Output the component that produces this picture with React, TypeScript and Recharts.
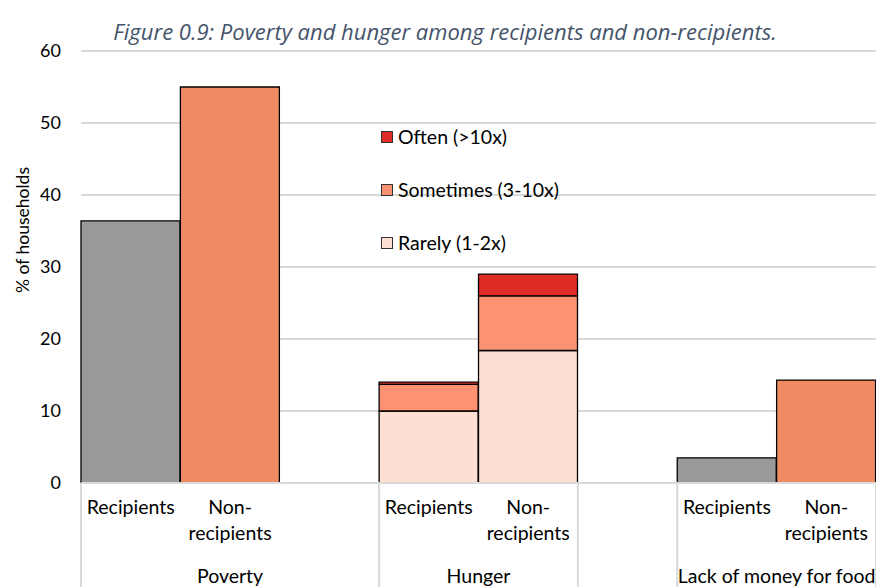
import React from "react";
import {
  BarChart,
  Bar,
  XAxis,
  YAxis,
  CartesianGrid,
  Legend,
} from "recharts";

// categories along the x axis (blank slots are the gaps between groups)
const categoryKeys = ["pov-rec", "pov-non", "gap1", "hun-rec", "hun-non", "gap2", "lack-rec", "lack-non"];
const categoryLabels = ["Recipients", "Non-\nrecipients", "", "Recipients", "Non-\nrecipients", "", "Recipients", "Non-\nrecipients"];

// outer level of the axis: label, first slot, number of slots
const groupLabels = ["Poverty", "Hunger", "", "Lack of money for food"];
const groupStarts = [0, 3, 5, 6];
const groupSpans = [3, 2, 1, 2];

// series values, one per category (null = no bar)
const recipients = [36.4, null, null, null, null, null, 3.5, null];
const nonRecipients = [null, 55, null, null, null, null, null, 14.3];
const rarely = [null, null, null, 10, 18.4, null, null, null];
const sometimes = [null, null, null, 3.7, 7.6, null, null, null];
const often = [null, null, null, 0.3, 3, null, null, null];

const yTicks = [0, 10, 20, 30, 40, 50, 60];

const legendNames = ["Often (>10x)", "Sometimes (3-10x)", "Rarely (1-2x)"];
const legendColors = ["#de2d26", "#fc9272", "#fee0d2"];

const FONT = "Lato, 'Open Sans', sans-serif";
const W = 876;
const H = 587;
const Y_AXIS_W = 81;
const X_AXIS_H = 104;
const BAND = (W - Y_AXIS_W) / categoryKeys.length;

const data = categoryKeys.map((key, i) => ({
  key,
  recipients: recipients[i],
  nonRecipients: nonRecipients[i],
  rarely: rarely[i],
  sometimes: sometimes[i],
  often: often[i],
}));

function CategoryTick(props: any) {
  const { x, y, payload } = props;
  const i = payload.index;
  const lines = categoryLabels[i] ? categoryLabels[i].split("\n") : [];
  const g = groupStarts.indexOf(i);
  const left = x - BAND / 2;
  return (
    <g>
      {lines.map((line: string, k: number) => (
        <text key={k} x={x} y={y + 31 + k * 26} textAnchor="middle" fontSize={19.5} fontFamily={FONT} fill="#000">
          {line}
        </text>
      ))}
      {g >= 0 && (
        <>
          <line x1={left} x2={left} y1={y} y2={y + X_AXIS_H} stroke="#d9d9d9" strokeWidth={2} />
          <text x={left + (groupSpans[g] * BAND) / 2} y={y + 100} textAnchor="middle" fontSize={19.5} fontFamily={FONT} fill="#000">
            {groupLabels[g]}
          </text>
        </>
      )}
      {i === categoryKeys.length - 1 && (
        <line x1={x + BAND / 2} x2={x + BAND / 2} y1={y} y2={y + X_AXIS_H} stroke="#d9d9d9" strokeWidth={2} />
      )}
    </g>
  );
}

function YLabel(props: any) {
  const { viewBox } = props;
  const x = viewBox.x + 29;
  const y = viewBox.y + viewBox.height / 2 - 37;
  return (
    <text x={x} y={y} transform={`rotate(-90, ${x}, ${y})`} textAnchor="middle" fontSize={17.5} fontFamily={FONT} fill="#000">
      % of households
    </text>
  );
}

function LegendBox() {
  return (
    <div style={{ fontFamily: FONT, fontSize: 19.5, color: "#000" }}>
      {legendNames.map((name, i) => (
        <div key={name} style={{ display: "flex", alignItems: "center", height: 53 }}>
          <span
            style={{
              display: "inline-block",
              width: 10,
              height: 10,
              background: legendColors[i],
              border: "1px solid #333",
              marginRight: 5,
            }}
          />
          {name}
        </div>
      ))}
    </div>
  );
}

export default function App() {
  return (
    <div style={{ position: "absolute", left: 0, top: 0, width: W, height: H, background: "#fff" }}>
      <div
        style={{
          position: "absolute",
          left: 0,
          top: 16,
          width: W,
          paddingLeft: 14,
          boxSizing: "border-box",
          textAlign: "center",
          fontFamily: "'Open Sans', sans-serif",
          fontStyle: "italic",
          fontSize: 22,
          color: "#44546a",
          zIndex: 2,
        }}
      >
        Figure 0.9: Poverty and hunger among recipients and non-recipients.
      </div>
      <BarChart
        width={W}
        height={H}
        data={data}
        margin={{ top: 51, right: 0, bottom: 0, left: 0 }}
        barCategoryGap={0}
        barGap={0}
      >
        <CartesianGrid vertical={false} stroke="#d9d9d9" strokeWidth={2} />
        <XAxis
          dataKey="key"
          height={X_AXIS_H}
          interval={0}
          tickLine={false}
          tickSize={0}
          tickMargin={0}
          axisLine={{ stroke: "#d9d9d9", strokeWidth: 2 }}
          tick={<CategoryTick />}
        />
        <YAxis
          width={Y_AXIS_W}
          domain={[0, 60]}
          ticks={yTicks}
          axisLine={false}
          tickLine={false}
          tick={{ fontSize: 18, fontFamily: FONT, fill: "#000" }}
          tickMargin={14}
          label={<YLabel />}
        />
        <Legend
          layout="vertical"
          align="center"
          verticalAlign="middle"
          wrapperStyle={{ left: 381, top: 110, width: 240 }}
          content={() => <LegendBox />}
        />
        <Bar dataKey="recipients" stackId="a" fill="#999999" stroke="#000" strokeWidth={1.3} isAnimationActive={false} />
        <Bar dataKey="nonRecipients" stackId="a" fill="#ef8a62" stroke="#000" strokeWidth={1.3} isAnimationActive={false} />
        <Bar dataKey="rarely" stackId="a" fill="#fee0d2" stroke="#000" strokeWidth={1.3} isAnimationActive={false} />
        <Bar dataKey="sometimes" stackId="a" fill="#fc9272" stroke="#000" strokeWidth={1.3} isAnimationActive={false} />
        <Bar dataKey="often" stackId="a" fill="#de2d26" stroke="#000" strokeWidth={1.3} isAnimationActive={false} />
      </BarChart>
    </div>
  );
}
